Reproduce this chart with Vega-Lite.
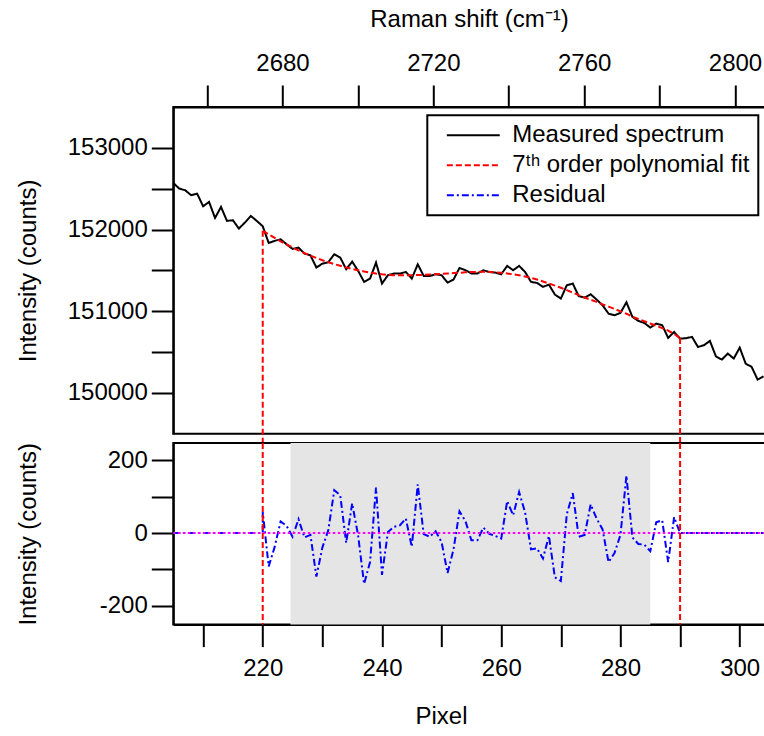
{
"$schema": "https://vega.github.io/schema/vega-lite/v6.json",
"padding": {"left": 14.3, "top": 6, "right": 0, "bottom": 0},
"config": {
 "font": "Liberation Sans",
 "view": {"stroke": "#000000", "strokeWidth": 2},
 "axis": {"domainColor": "#000000", "domainWidth": 2, "tickColor": "#000000", "tickWidth": 2, "tickSize": 22, "labelFontSize": 24, "labelColor": "#000000", "labelFont": "Liberation Sans", "titleFont": "Liberation Sans", "titleFontSize": 24, "titleFontWeight": "normal", "titleColor": "#000000", "grid": false, "labelOverlap": false, "labelFlush": false},
 "legend": {"strokeWidth": 2}
},
"datasets": {
 "spectrum": [
  {"pixel":205,"counts":152571,"series":"Measured spectrum"},{"pixel":206,"counts":152501,"series":"Measured spectrum"},{"pixel":207,"counts":152481,"series":"Measured spectrum"},{"pixel":208,"counts":152420,"series":"Measured spectrum"},{"pixel":209,"counts":152440,"series":"Measured spectrum"},
  {"pixel":210,"counts":152285,"series":"Measured spectrum"},{"pixel":211,"counts":152338,"series":"Measured spectrum"},{"pixel":212,"counts":152142,"series":"Measured spectrum"},{"pixel":213,"counts":152277,"series":"Measured spectrum"},{"pixel":214,"counts":152106,"series":"Measured spectrum"},
  {"pixel":215,"counts":152114,"series":"Measured spectrum"},{"pixel":216,"counts":152012,"series":"Measured spectrum"},{"pixel":217,"counts":152085,"series":"Measured spectrum"},{"pixel":218,"counts":152167,"series":"Measured spectrum"},{"pixel":219,"counts":152106,"series":"Measured spectrum"},
  {"pixel":220,"counts":152040,"series":"Measured spectrum"},{"pixel":221,"counts":151836,"series":"Measured spectrum"},{"pixel":222,"counts":151861,"series":"Measured spectrum"},{"pixel":223,"counts":151881,"series":"Measured spectrum"},{"pixel":224,"counts":151820,"series":"Measured spectrum"},
  {"pixel":225,"counts":151763,"series":"Measured spectrum"},{"pixel":226,"counts":151779,"series":"Measured spectrum"},{"pixel":227,"counts":151706,"series":"Measured spectrum"},{"pixel":228,"counts":151685,"series":"Measured spectrum"},{"pixel":229,"counts":151535,"series":"Measured spectrum"},
  {"pixel":230,"counts":151583,"series":"Measured spectrum"},{"pixel":231,"counts":151600,"series":"Measured spectrum"},{"pixel":232,"counts":151698,"series":"Measured spectrum"},{"pixel":233,"counts":151657,"series":"Measured spectrum"},{"pixel":234,"counts":151514,"series":"Measured spectrum"},
  {"pixel":235,"counts":151608,"series":"Measured spectrum"},{"pixel":236,"counts":151494,"series":"Measured spectrum"},{"pixel":237,"counts":151360,"series":"Measured spectrum"},{"pixel":238,"counts":151400,"series":"Measured spectrum"},{"pixel":239,"counts":151596,"series":"Measured spectrum"},
  {"pixel":240,"counts":151339,"series":"Measured spectrum"},{"pixel":241,"counts":151441,"series":"Measured spectrum"},{"pixel":242,"counts":151461,"series":"Measured spectrum"},{"pixel":243,"counts":151461,"series":"Measured spectrum"},{"pixel":244,"counts":151481,"series":"Measured spectrum"},
  {"pixel":245,"counts":151400,"series":"Measured spectrum"},{"pixel":246,"counts":151575,"series":"Measured spectrum"},{"pixel":247,"counts":151432,"series":"Measured spectrum"},{"pixel":248,"counts":151432,"series":"Measured spectrum"},{"pixel":249,"counts":151453,"series":"Measured spectrum"},
  {"pixel":250,"counts":151441,"series":"Measured spectrum"},{"pixel":251,"counts":151351,"series":"Measured spectrum"},{"pixel":252,"counts":151388,"series":"Measured spectrum"},{"pixel":253,"counts":151530,"series":"Measured spectrum"},{"pixel":254,"counts":151502,"series":"Measured spectrum"},
  {"pixel":255,"counts":151461,"series":"Measured spectrum"},{"pixel":256,"counts":151461,"series":"Measured spectrum"},{"pixel":257,"counts":151502,"series":"Measured spectrum"},{"pixel":258,"counts":151481,"series":"Measured spectrum"},{"pixel":259,"counts":151473,"series":"Measured spectrum"},
  {"pixel":260,"counts":151453,"series":"Measured spectrum"},{"pixel":261,"counts":151555,"series":"Measured spectrum"},{"pixel":262,"counts":151502,"series":"Measured spectrum"},{"pixel":263,"counts":151555,"series":"Measured spectrum"},{"pixel":264,"counts":151481,"series":"Measured spectrum"},
  {"pixel":265,"counts":151359,"series":"Measured spectrum"},{"pixel":266,"counts":151347,"series":"Measured spectrum"},{"pixel":267,"counts":151298,"series":"Measured spectrum"},{"pixel":268,"counts":151326,"series":"Measured spectrum"},{"pixel":269,"counts":151204,"series":"Measured spectrum"},
  {"pixel":270,"counts":151155,"series":"Measured spectrum"},{"pixel":271,"counts":151318,"series":"Measured spectrum"},{"pixel":272,"counts":151339,"series":"Measured spectrum"},{"pixel":273,"counts":151184,"series":"Measured spectrum"},{"pixel":274,"counts":151167,"series":"Measured spectrum"},
  {"pixel":275,"counts":151208,"series":"Measured spectrum"},{"pixel":276,"counts":151143,"series":"Measured spectrum"},{"pixel":277,"counts":151073,"series":"Measured spectrum"},{"pixel":278,"counts":150971,"series":"Measured spectrum"},{"pixel":279,"counts":150951,"series":"Measured spectrum"},
  {"pixel":280,"counts":150980,"series":"Measured spectrum"},{"pixel":281,"counts":151110,"series":"Measured spectrum"},{"pixel":282,"counts":150931,"series":"Measured spectrum"},{"pixel":283,"counts":150882,"series":"Measured spectrum"},{"pixel":284,"counts":150857,"series":"Measured spectrum"},
  {"pixel":285,"counts":150800,"series":"Measured spectrum"},{"pixel":286,"counts":150849,"series":"Measured spectrum"},{"pixel":287,"counts":150829,"series":"Measured spectrum"},{"pixel":288,"counts":150674,"series":"Measured spectrum"},{"pixel":289,"counts":150747,"series":"Measured spectrum"},
  {"pixel":290,"counts":150665,"series":"Measured spectrum"},{"pixel":291,"counts":150670,"series":"Measured spectrum"},{"pixel":292,"counts":150686,"series":"Measured spectrum"},{"pixel":293,"counts":150563,"series":"Measured spectrum"},{"pixel":294,"counts":150584,"series":"Measured spectrum"},
  {"pixel":295,"counts":150637,"series":"Measured spectrum"},{"pixel":296,"counts":150449,"series":"Measured spectrum"},{"pixel":297,"counts":150408,"series":"Measured spectrum"},{"pixel":298,"counts":150482,"series":"Measured spectrum"},{"pixel":299,"counts":150421,"series":"Measured spectrum"},
  {"pixel":300,"counts":150555,"series":"Measured spectrum"},{"pixel":301,"counts":150359,"series":"Measured spectrum"},{"pixel":302,"counts":150319,"series":"Measured spectrum"},{"pixel":303,"counts":150164,"series":"Measured spectrum"},{"pixel":304,"counts":150204,"series":"Measured spectrum"}
 ],
 "fit": [
  {"pixel":220,"counts":151985,"series":"7ᵗʰ order polynomial fit"},{"pixel":221,"counts":151940,"series":"7ᵗʰ order polynomial fit"},{"pixel":222,"counts":151897,"series":"7ᵗʰ order polynomial fit"},{"pixel":223,"counts":151856,"series":"7ᵗʰ order polynomial fit"},{"pixel":224,"counts":151817,"series":"7ᵗʰ order polynomial fit"},
  {"pixel":225,"counts":151780,"series":"7ᵗʰ order polynomial fit"},{"pixel":226,"counts":151745,"series":"7ᵗʰ order polynomial fit"},{"pixel":227,"counts":151712,"series":"7ᵗʰ order polynomial fit"},{"pixel":228,"counts":151681,"series":"7ᵗʰ order polynomial fit"},{"pixel":229,"counts":151652,"series":"7ᵗʰ order polynomial fit"},
  {"pixel":230,"counts":151625,"series":"7ᵗʰ order polynomial fit"},{"pixel":231,"counts":151600,"series":"7ᵗʰ order polynomial fit"},{"pixel":232,"counts":151577,"series":"7ᵗʰ order polynomial fit"},{"pixel":233,"counts":151556,"series":"7ᵗʰ order polynomial fit"},{"pixel":234,"counts":151536,"series":"7ᵗʰ order polynomial fit"},
  {"pixel":235,"counts":151518,"series":"7ᵗʰ order polynomial fit"},{"pixel":236,"counts":151502,"series":"7ᵗʰ order polynomial fit"},{"pixel":237,"counts":151487,"series":"7ᵗʰ order polynomial fit"},{"pixel":238,"counts":151474,"series":"7ᵗʰ order polynomial fit"},{"pixel":239,"counts":151462,"series":"7ᵗʰ order polynomial fit"},
  {"pixel":240,"counts":151452,"series":"7ᵗʰ order polynomial fit"},{"pixel":241,"counts":151445,"series":"7ᵗʰ order polynomial fit"},{"pixel":242,"counts":151441,"series":"7ᵗʰ order polynomial fit"},{"pixel":243,"counts":151440,"series":"7ᵗʰ order polynomial fit"},{"pixel":244,"counts":151440,"series":"7ᵗʰ order polynomial fit"},
  {"pixel":245,"counts":151441,"series":"7ᵗʰ order polynomial fit"},{"pixel":246,"counts":151443,"series":"7ᵗʰ order polynomial fit"},{"pixel":247,"counts":151446,"series":"7ᵗʰ order polynomial fit"},{"pixel":248,"counts":151449,"series":"7ᵗʰ order polynomial fit"},{"pixel":249,"counts":151453,"series":"7ᵗʰ order polynomial fit"},
  {"pixel":250,"counts":151457,"series":"7ᵗʰ order polynomial fit"},{"pixel":251,"counts":151462,"series":"7ᵗʰ order polynomial fit"},{"pixel":252,"counts":151467,"series":"7ᵗʰ order polynomial fit"},{"pixel":253,"counts":151471,"series":"7ᵗʰ order polynomial fit"},{"pixel":254,"counts":151476,"series":"7ᵗʰ order polynomial fit"},
  {"pixel":255,"counts":151480,"series":"7ᵗʰ order polynomial fit"},{"pixel":256,"counts":151482,"series":"7ᵗʰ order polynomial fit"},{"pixel":257,"counts":151482,"series":"7ᵗʰ order polynomial fit"},{"pixel":258,"counts":151480,"series":"7ᵗʰ order polynomial fit"},{"pixel":259,"counts":151476,"series":"7ᵗʰ order polynomial fit"},
  {"pixel":260,"counts":151470,"series":"7ᵗʰ order polynomial fit"},{"pixel":261,"counts":151462,"series":"7ᵗʰ order polynomial fit"},{"pixel":262,"counts":151452,"series":"7ᵗʰ order polynomial fit"},{"pixel":263,"counts":151440,"series":"7ᵗʰ order polynomial fit"},{"pixel":264,"counts":151426,"series":"7ᵗʰ order polynomial fit"},
  {"pixel":265,"counts":151408,"series":"7ᵗʰ order polynomial fit"},{"pixel":266,"counts":151388,"series":"7ᵗʰ order polynomial fit"},{"pixel":267,"counts":151365,"series":"7ᵗʰ order polynomial fit"},{"pixel":268,"counts":151340,"series":"7ᵗʰ order polynomial fit"},{"pixel":269,"counts":151314,"series":"7ᵗʰ order polynomial fit"},
  {"pixel":270,"counts":151287,"series":"7ᵗʰ order polynomial fit"},{"pixel":271,"counts":151259,"series":"7ᵗʰ order polynomial fit"},{"pixel":272,"counts":151228,"series":"7ᵗʰ order polynomial fit"},{"pixel":273,"counts":151197,"series":"7ᵗʰ order polynomial fit"},{"pixel":274,"counts":151168,"series":"7ᵗʰ order polynomial fit"},
  {"pixel":275,"counts":151141,"series":"7ᵗʰ order polynomial fit"},{"pixel":276,"counts":151114,"series":"7ᵗʰ order polynomial fit"},{"pixel":277,"counts":151085,"series":"7ᵗʰ order polynomial fit"},{"pixel":278,"counts":151057,"series":"7ᵗʰ order polynomial fit"},{"pixel":279,"counts":151028,"series":"7ᵗʰ order polynomial fit"},
  {"pixel":280,"counts":150999,"series":"7ᵗʰ order polynomial fit"},{"pixel":281,"counts":150970,"series":"7ᵗʰ order polynomial fit"},{"pixel":282,"counts":150932,"series":"7ᵗʰ order polynomial fit"},{"pixel":283,"counts":150905,"series":"7ᵗʰ order polynomial fit"},{"pixel":284,"counts":150878,"series":"7ᵗʰ order polynomial fit"},
  {"pixel":285,"counts":150850,"series":"7ᵗʰ order polynomial fit"},{"pixel":286,"counts":150822,"series":"7ᵗʰ order polynomial fit"},{"pixel":287,"counts":150793,"series":"7ᵗʰ order polynomial fit"},{"pixel":288,"counts":150762,"series":"7ᵗʰ order polynomial fit"},{"pixel":289,"counts":150722,"series":"7ᵗʰ order polynomial fit"},
  {"pixel":290,"counts":150672,"series":"7ᵗʰ order polynomial fit"}
 ],
 "residual": [
  {"i":0,"pixel":205,"res":0},{"i":1,"pixel":206,"res":0},{"i":2,"pixel":207,"res":0},{"i":3,"pixel":208,"res":0},{"i":4,"pixel":209,"res":0},
  {"i":5,"pixel":210,"res":0},{"i":6,"pixel":211,"res":0},{"i":7,"pixel":212,"res":0},{"i":8,"pixel":213,"res":0},{"i":9,"pixel":214,"res":0},
  {"i":10,"pixel":215,"res":0},{"i":11,"pixel":216,"res":0},{"i":12,"pixel":217,"res":0},{"i":13,"pixel":218,"res":0},{"i":14,"pixel":219,"res":0},
  {"i":15,"pixel":220,"res":0},{"i":16,"pixel":220,"res":58},{"i":17,"pixel":221,"res":-92},{"i":18,"pixel":222,"res":-38},{"i":19,"pixel":223,"res":32},
  {"i":20,"pixel":224,"res":20},{"i":21,"pixel":225,"res":-10},{"i":22,"pixel":226,"res":38},{"i":23,"pixel":227,"res":-12},{"i":24,"pixel":228,"res":-5},
  {"i":25,"pixel":229,"res":-120},{"i":26,"pixel":230,"res":-40},{"i":27,"pixel":231,"res":8},{"i":28,"pixel":232,"res":118},{"i":29,"pixel":233,"res":104},
  {"i":30,"pixel":234,"res":-27},{"i":31,"pixel":235,"res":82},{"i":32,"pixel":236,"res":-7},{"i":33,"pixel":237,"res":-140},{"i":34,"pixel":238,"res":-80},
  {"i":35,"pixel":239,"res":125},{"i":36,"pixel":240,"res":-115},{"i":37,"pixel":241,"res":3},{"i":38,"pixel":242,"res":17},{"i":39,"pixel":243,"res":21},
  {"i":40,"pixel":244,"res":40},{"i":41,"pixel":245,"res":-38},{"i":42,"pixel":246,"res":134},{"i":43,"pixel":247,"res":-3},{"i":44,"pixel":248,"res":-10},
  {"i":45,"pixel":249,"res":5},{"i":46,"pixel":250,"res":-25},{"i":47,"pixel":251,"res":-110},{"i":48,"pixel":252,"res":-45},{"i":49,"pixel":253,"res":60},
  {"i":50,"pixel":254,"res":33},{"i":51,"pixel":255,"res":-20},{"i":52,"pixel":256,"res":-20},{"i":53,"pixel":257,"res":15},{"i":54,"pixel":258,"res":-2},
  {"i":55,"pixel":259,"res":-8},{"i":56,"pixel":260,"res":-15},{"i":57,"pixel":261,"res":88},{"i":58,"pixel":262,"res":49},{"i":59,"pixel":263,"res":113},
  {"i":60,"pixel":264,"res":57},{"i":61,"pixel":265,"res":-45},{"i":62,"pixel":266,"res":-42},{"i":63,"pixel":267,"res":-70},{"i":64,"pixel":268,"res":-8},
  {"i":65,"pixel":269,"res":-122},{"i":66,"pixel":270,"res":-132},{"i":67,"pixel":271,"res":52},{"i":68,"pixel":272,"res":110},{"i":69,"pixel":273,"res":-10},
  {"i":70,"pixel":274,"res":-5},{"i":71,"pixel":275,"res":79},{"i":72,"pixel":276,"res":40},{"i":73,"pixel":277,"res":10},{"i":74,"pixel":278,"res":-80},
  {"i":75,"pixel":279,"res":-55},{"i":76,"pixel":280,"res":-5},{"i":77,"pixel":281,"res":158},{"i":78,"pixel":282,"res":-12},{"i":79,"pixel":283,"res":-30},
  {"i":80,"pixel":284,"res":-32},{"i":81,"pixel":285,"res":-50},{"i":82,"pixel":286,"res":30},{"i":83,"pixel":287,"res":35},{"i":84,"pixel":288,"res":-80},
  {"i":85,"pixel":289,"res":44},{"i":86,"pixel":290,"res":0},{"i":87,"pixel":291,"res":0},{"i":88,"pixel":292,"res":0},{"i":89,"pixel":293,"res":0},
  {"i":90,"pixel":294,"res":0},{"i":91,"pixel":295,"res":0},{"i":92,"pixel":296,"res":0},{"i":93,"pixel":297,"res":0},{"i":94,"pixel":298,"res":0},
  {"i":95,"pixel":299,"res":0},{"i":96,"pixel":300,"res":0},{"i":97,"pixel":301,"res":0},{"i":98,"pixel":302,"res":0},{"i":99,"pixel":303,"res":0},
  {"i":100,"pixel":304,"res":0}
 ],
 "cut": [{"pixel":220,"counts":151985},{"pixel":290,"counts":150672}],
 "raman": [{"raman":2680},{"raman":2800}],
 "band": [{"start":224.65,"end":285}]
},
"spacing": 9,
"bounds": "flush",
"resolve": {"legend": {"color": "independent", "strokeDash": "independent"}},
"vconcat": [
 {
  "width": 597,
  "height": 326.8,
  "resolve": {"scale": {"x": "independent"}},
  "layer": [
   {
    "layer": [
     {
      "data": {"name": "spectrum"},
      "mark": {"type": "line", "strokeWidth": 2},
      "encoding": {
       "x": {"field": "pixel", "type": "quantitative", "scale": {"domain": [205, 305.13], "nice": false, "zero": false}, "axis": null},
       "y": {"field": "counts", "type": "quantitative", "scale": {"domain": [149500, 153500], "nice": false, "zero": false},
        "axis": {"values": [150000,150500,151000,151500,152000,152500,153000], "format": "d", "labelExpr": "datum.value % 1000 === 0 ? datum.label : ''", "title": "Intensity (counts)", "titlePadding": 27, "labelPadding": 4,
         "encode": {"ticks": {"x2": {"value": {"expr": "datum.value % 1000 === 0 ? -22 : -11"}}}}}},
       "color": {"field": "series", "type": "nominal", "title": null,
        "scale": {"domain": ["Measured spectrum", "7ᵗʰ order polynomial fit", "Residual"], "range": ["#000000", "#FF0000", "#0000FF"]},
        "legend": {"orient": "none", "legendX": 254, "legendY": 8.3, "title": null, "symbolType": "M-5,0L5,0", "symbolSize": 112, "symbolStrokeWidth": 2, "symbolOffset": 26, "labelOffset": 27, "labelFontSize": 24, "labelFont": "Liberation Sans", "labelColor": "#000000", "labelLimit": 500, "padding": 8, "rowPadding": 6, "strokeColor": "#000000", "fillColor": "#FFFFFF"}},
       "strokeDash": {"field": "series", "type": "nominal", "title": null,
        "scale": {"domain": ["Measured spectrum", "7ᵗʰ order polynomial fit", "Residual"], "range": [[1, 0], [6, 3], [7, 3, 2, 3]]},
        "legend": {"orient": "none", "legendX": 254, "legendY": 8.3, "title": null, "symbolType": "M-5,0L5,0", "symbolSize": 112, "symbolStrokeWidth": 2, "symbolOffset": 26, "labelOffset": 27, "labelFontSize": 24, "labelFont": "Liberation Sans", "labelColor": "#000000", "labelLimit": 500, "padding": 8, "rowPadding": 6, "strokeColor": "#000000", "fillColor": "#FFFFFF"}}
      }
     },
     {
      "data": {"name": "fit"},
      "mark": {"type": "line", "strokeWidth": 2},
      "encoding": {
       "x": {"field": "pixel", "type": "quantitative"},
       "y": {"field": "counts", "type": "quantitative"},
       "color": {"field": "series", "type": "nominal", "title": null},
       "strokeDash": {"field": "series", "type": "nominal", "title": null}
      }
     },
     {
      "data": {"name": "cut"},
      "mark": {"type": "rule", "color": "#FF0000", "strokeWidth": 2, "strokeDash": [6, 3]},
      "encoding": {
       "x": {"field": "pixel", "type": "quantitative"},
       "y": {"field": "counts", "type": "quantitative"},
       "y2": {"datum": 149387}
      }
     }
    ]
   },
   {
    "data": {"name": "raman"},
    "mark": {"type": "point", "opacity": 0},
    "encoding": {
     "x": {"field": "raman", "type": "quantitative", "scale": {"domain": [2651.04, 2809.36], "nice": false, "zero": false},
      "axis": {"orient": "top", "values": [2660,2680,2700,2720,2740,2760,2780,2800], "format": "d", "labelExpr": "datum.value % 40 === 0 ? datum.label : ''", "title": "Raman shift (cm⁻¹)", "labelPadding": 10, "titlePadding": 20, "titleX": 295.7,
       "encode": {"ticks": {"y2": {"value": {"expr": "datum.value % 40 === 0 ? -22 : -11"}}}}}}
    }
   }
  ]
 },
 {
  "width": 597,
  "height": 181.6,
  "layer": [
   {
    "data": {"name": "band"},
    "mark": {"type": "rect", "color": "#E5E5E5"},
    "encoding": {
     "x": {"field": "start", "type": "quantitative", "scale": {"domain": [205, 305.13], "nice": false, "zero": false},
      "axis": {"values": [210,220,230,240,250,260,270,280,290,300], "labelExpr": "datum.value % 20 === 0 ? datum.label : ''", "title": "Pixel", "labelPadding": 10, "titlePadding": 24, "titleX": 267.7,
       "encode": {"ticks": {"y2": {"value": {"expr": "datum.value % 20 === 0 ? 22 : 11"}}}}}},
     "x2": {"field": "end"}
    }
   },
   {
    "data": {"name": "residual"},
    "mark": {"type": "line", "color": "#0000FF", "strokeWidth": 2, "strokeDash": [7, 3, 2, 3]},
    "encoding": {
     "x": {"field": "pixel", "type": "quantitative"},
     "y": {"field": "res", "type": "quantitative", "scale": {"domain": [-252, 248], "nice": false, "zero": false},
      "axis": {"values": [-200,-100,0,100,200], "labelExpr": "datum.value % 200 === 0 ? '' + datum.value : ''", "title": "Intensity (counts)", "titlePadding": 59, "labelPadding": 4,
       "encode": {"ticks": {"x2": {"value": {"expr": "datum.value % 200 === 0 ? -22 : -11"}}}}}},
     "order": {"field": "i", "type": "quantitative"}
    }
   },
   {
    "data": {"values": [{}]},
    "mark": {"type": "rule", "color": "#FF00FF", "strokeWidth": 2, "strokeDash": [2.5, 2.5]},
    "encoding": {"y": {"datum": 0}}
   },
   {
    "data": {"name": "cut"},
    "mark": {"type": "rule", "color": "#FF0000", "strokeWidth": 2, "strokeDash": [6, 3]},
    "encoding": {"x": {"field": "pixel", "type": "quantitative"}}
   }
  ]
 }
]
}
